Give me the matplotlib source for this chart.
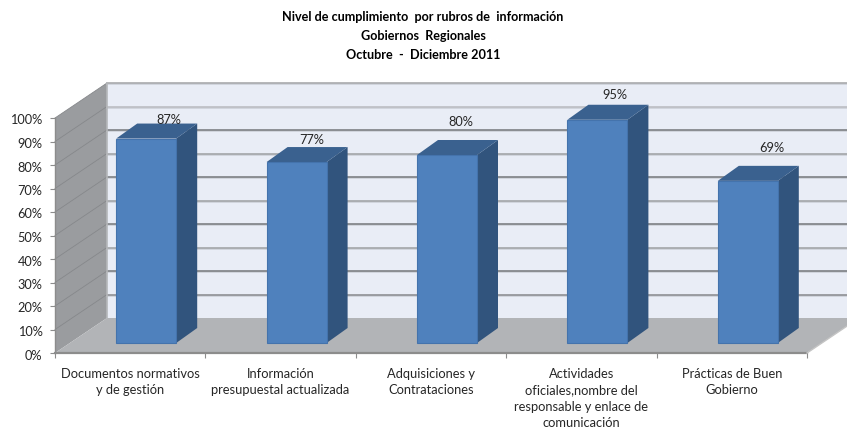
import matplotlib
matplotlib.use("Agg")
import matplotlib.pyplot as plt
from matplotlib.patches import Polygon
from matplotlib.transforms import ScaledTranslation

categories = ["Documentos normativos\ny de gestión",
              "Información\npresupuestal actualizada",
              "Adquisiciones y\nContrataciones",
              "Actividades\noficiales,nombre del\nresponsable y enlace de\ncomunicación",
              "Prácticas de Buen\nGobierno"]
values = [87, 77, 80, 95, 69]
y_ticks = list(range(0, 101, 10))

# label nudges in pixels, the labels were moved by hand in the original
label_dx = [23, 15, 14, 17, 24]
label_dy = [-19, -22, -33, -25, -33]

# gridlines of the wall come out uneven in the original
grid_colors = ["#8E9094", "#7E8084", "#A3A5A9", "#7E8084", "#A3A5A9",
               "#7E8084", "#A3A5A9", "#7E8084", "#BCBEC3", "#A9AAAD"]

W, H = 847, 429
plt.rcParams['font.family'] = ['Lato', 'DejaVu Sans']

fig = plt.figure(figsize=(W / 100, H / 100), dpi=100)
ax = fig.add_axes([55 / W, (H - 353) / H, 752 / W, 235 / H])
ax.set_xlim(0, 5)
ax.set_ylim(0, 100)

px_x = 5 / 752
px_y = 100 / 235

# depth of the box, and of the bars inside it
wall_dx, wall_dy = 52 * px_x, 35 * px_y
bar_dx, bar_dy = 16 * px_x, 10 * px_y
side_dx, side_dy = 21 * px_x, 15 * px_y
bar_w = 60 * px_x


def poly(pts, color, z, ec="none", lw=0):
    ax.add_patch(Polygon(pts, closed=True, facecolor=color, edgecolor=ec,
                         linewidth=lw, zorder=z, clip_on=False))


# back wall, side wall, floor
poly([(wall_dx, wall_dy), (5 + wall_dx, wall_dy),
      (5 + wall_dx, 100 + wall_dy), (wall_dx, 100 + wall_dy)], "#E9EDF6", 1)
poly([(0, 0), (wall_dx, wall_dy), (wall_dx, 100 + wall_dy), (0, 100)], "#9A9C9F", 1)
poly([(0, 0), (5, 0), (5 + wall_dx, wall_dy), (wall_dx, wall_dy)], "#B2B4B7", 1.5)

for t, c in zip(y_ticks[1:], grid_colors):
    ax.plot([wall_dx, 5 + wall_dx], [t + wall_dy - 0.55] * 2, color="#CDD1D9",
            lw=1.2, zorder=2, clip_on=False)
    ax.plot([wall_dx, 5 + wall_dx], [t + wall_dy] * 2, color=c,
            lw=1.2, zorder=2.1, clip_on=False)
    ax.plot([0, wall_dx], [t, t + wall_dy], color="#86888B", lw=0.6,
            zorder=2, clip_on=False)
ax.plot([wall_dx, wall_dx], [wall_dy, 100 + wall_dy], color="#B5B7BA", lw=1.2,
        zorder=2.2, clip_on=False)

# front edge of the floor
ax.plot([0, 5], [0, 0], color="#8C8C8C", lw=1.6, zorder=3, clip_on=False)
ax.plot([5, 5 + wall_dx], [0, wall_dy], color="#C4C4C4", lw=1, zorder=3, clip_on=False)
ax.plot([0, 0], [0, 100], color="#8C8C8C", lw=1, zorder=3, clip_on=False)

# bars
x_pos = [i + 0.5 + bar_dx for i in range(len(values))]
ax.bar(x_pos, values, width=bar_w, bottom=bar_dy, color="#4F81BD",
       edgecolor="#4473AC", linewidth=0.8, zorder=5, clip_on=False)
for x, v in zip(x_pos, values):
    l, r = x - bar_w / 2, x + bar_w / 2
    b, t = bar_dy, bar_dy + v
    poly([(r, b), (r + side_dx, b + side_dy), (r + side_dx, t + side_dy), (r, t)],
         "#31547D", 4.5)
    poly([(l, t), (r, t), (r + side_dx, t + side_dy), (l + side_dx, t + side_dy)],
         "#3A618F", 4.6)

for x, v, dx, dy in zip(x_pos, values, label_dx, label_dy):
    ax.annotate(f"{v}%", (x, v + bar_dy), xytext=(dx * 0.72, -dy * 0.72),
                textcoords="offset points", ha="center", va="center",
                fontsize=9.2, color="#262626", zorder=6)

# axes
for s in ax.spines.values():
    s.set_visible(False)
ax.set_yticks(y_ticks)
ax.set_yticklabels([f"{t}%" for t in y_ticks])
ax.set_xticks(range(6))
ax.set_xticklabels([""] * 6)
ax.set_xticks([i + 0.5 for i in range(5)], minor=True)
ax.set_xticklabels(categories, minor=True, linespacing=1.42, ha="center", va="top")
ax.tick_params(axis="y", length=3.5, width=0.8, color="#8C8C8C", pad=5.5,
               labelsize=9.2, labelcolor="#262626")
ax.tick_params(axis="x", which="major", length=3.5, width=0.8, color="#8C8C8C")
ax.tick_params(axis="x", which="minor", length=0, pad=11, labelsize=9.3,
               labelcolor="#262626")

# y labels sit a little under their ticks
shift = ScaledTranslation(0, -1.5 / 100, fig.dpi_scale_trans)
for lab in ax.get_yticklabels():
    lab.set_transform(lab.get_transform() + shift)

fig.text(423 / W, 1 - 36 / H,
         "Nivel de cumplimiento  por rubros de  información\n"
         "Gobiernos  Regionales\nOctubre  -  Diciembre 2011",
         ha="center", va="center", fontsize=9.05, fontweight="bold",
         color="black", linespacing=1.68)

fig.savefig("out.png", dpi=100)
